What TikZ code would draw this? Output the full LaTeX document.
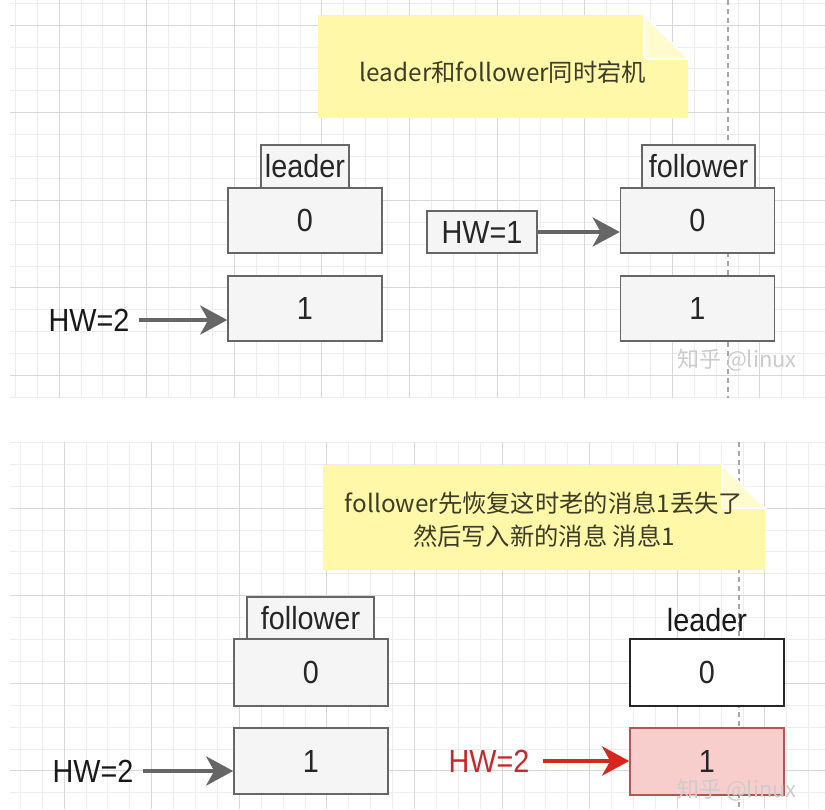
\documentclass[tikz,border=0pt]{standalone}
\usepackage{fontspec}
\setmainfont{Liberation Sans}[FakeStretch=0.9]
\newfontfamily\cjk{Noto Sans CJK SC}
\usetikzlibrary{arrows.meta}
\definecolor{boxfill}{HTML}{F5F5F5}
\definecolor{boxline}{HTML}{666666}
\definecolor{notefill}{HTML}{FFF8A8}
\definecolor{notetxt}{HTML}{3C3C28}
\definecolor{redfill}{HTML}{F8CECC}
\definecolor{redline}{HTML}{B85450}
\definecolor{redarrow}{HTML}{D8261E}
\definecolor{redtext}{HTML}{C8282A}
\definecolor{gridminor}{HTML}{EDEDED}
\definecolor{gridmajor}{HTML}{D8D8D8}
\tikzset{
  cell/.style={draw=boxline, fill=boxfill, line width=1.6pt, minimum width=154pt,
    minimum height=65pt, inner sep=0pt, font=\fontsize{32}{38}\selectfont, text=black!85},
  tagbox/.style={draw=boxline, fill=boxfill, line width=1.6pt, minimum height=43pt,
    inner sep=0pt, font=\fontsize{32}{38}\selectfont, text=black!85},
  hwtext/.style={font=\fontsize{32}{38}\selectfont, inner sep=0pt, text=black!90},
  arr/.style={draw=boxline, line width=4pt, -{Stealth[length=27pt,width=29pt,inset=8pt]}},
  redarr/.style={draw=redarrow, line width=4pt, -{Stealth[length=27pt,width=29pt,inset=8pt]}},
  notetext/.style={font=\cjk\fontsize{24.3}{33}\selectfont, text=notetxt, align=center, inner sep=0pt},
  notebody/.style={fill=notefill},
  notefold/.style={fill=notefill!55!white, draw=white, line width=1.5pt},
  guide/.style={draw=gray!70, line width=1.4pt, dash pattern=on 5pt off 4pt},
  wmark/.style={font=\cjk\fontsize{22}{26}\selectfont, text=gray!40, inner sep=0pt},
  gmin/.style={draw=gridminor, line width=0.8pt},
  gmaj/.style={draw=gridmajor, line width=1pt},
}
\begin{document}
\begin{tikzpicture}[x=1pt,y=-1pt]
\useasboundingbox (0,0) rectangle (825,809);
\fill[white] (0,0) rectangle (825,809);
% ---------- top grid
\begin{scope}
  \clip (10,0) rectangle (825,398);
  \foreach \i in {-3,...,36} \draw[gmin] ({59+21.9*\i},0) -- ({59+21.9*\i},398);
  \foreach \j in {-2,...,18} \draw[gmin] (10,{25+21.9*\j}) -- (825,{25+21.9*\j});
  \foreach \i in {-1,...,9} \draw[gmaj] ({59+87.6*\i},0) -- ({59+87.6*\i},398);
  \foreach \j in {0,...,4} \draw[gmaj] (10,{25+87.6*\j}) -- (825,{25+87.6*\j});
\end{scope}
% ---------- bottom grid
\begin{scope}
  \clip (10,442) rectangle (825,809);
  \foreach \i in {-3,...,36} \draw[gmin] ({64+21.9*\i},442) -- ({64+21.9*\i},809);
  \foreach \j in {-4,...,15} \draw[gmin] (10,{508+21.9*\j}) -- (825,{508+21.9*\j});
  \foreach \i in {-1,...,9} \draw[gmaj] ({64+87.6*\i},442) -- ({64+87.6*\i},809);
  \foreach \j in {0,...,3} \draw[gmaj] (10,{508+87.6*\j}) -- (825,{508+87.6*\j});
\end{scope}
% ---------- guide lines
\draw[guide] (728,0) -- (728,398);
\draw[guide] (739,442) -- (739,809);

% ---------- top note
\fill[notebody] (318,15) -- (644,15) -- (688,59) -- (688,118) -- (318,118) -- cycle;
\filldraw[notefold] (644,15) -- (644,59) -- (688,59) -- cycle;
\node[notetext] (note1) at (503,72) {leader和follower同时宕机};

% ---------- top left (leader)
\node[tagbox, minimum width=88pt] (ltag) at (305,166.5) {leader};
\node[cell] (L0) at (305,220.5) {0};
\node[cell] (L1) at (305,308.5) {1};
\node[hwtext] (hwA) at (89,320) {HW=2};
\draw[arr] ([xshift=9pt]hwA.east) -- (hwA.east -| L1.west);

% ---------- top right (follower)
\node[tagbox, minimum width=113pt] (ftag) at (698.5,166.5) {follower};
\node[cell] (F0) at (697.5,220.5) {0};
\node[cell] (F1) at (697.5,308.5) {1};
\node[tagbox, minimum width=110pt, minimum height=42pt] (hwB) at (482,232) {HW=1};
\draw[arr] (hwB.east) -- (hwB.east -| F0.west);
\node[wmark] (wm1) at (737,360) {知乎 @linux};

% ---------- bottom note
\fill[notebody] (323,465) -- (722,465) -- (765,508) -- (765,570) -- (323,570) -- cycle;
\filldraw[notefold] (722,465) -- (722,508) -- (765,508) -- cycle;
\node[notetext] (note2) at (544,519.5) {follower先恢复这时老的消息1丢失了\\然后写入新的消息 消息1};

% ---------- bottom left (follower)
\node[tagbox, minimum width=127pt, minimum height=42pt] (btag) at (310.5,618) {follower};
\node[cell, minimum height=67pt] (B0) at (311,672.5) {0};
\node[cell, minimum height=66pt] (B1) at (311,761) {1};
\node[hwtext] (hwC) at (93,771) {HW=2};
\draw[arr] ([xshift=9pt]hwC.east) -- (hwC.east -| B1.west);

% ---------- bottom right (leader)
\node[hwtext] (rtag) at (707,620) {leader};
\node[cell, fill=white, draw=black!85, line width=2.2pt, minimum height=67pt] (R0) at (707,672.5) {0};
\node[cell, fill=redfill, draw=redline, minimum height=67pt] (R1) at (707,761.5) {1};
\node[hwtext, text=redtext] (hwD) at (489,761) {HW=2};
\draw[redarr] ([xshift=13pt]hwD.east) -- (hwD.east -| R1.west);
\node[wmark] (wm2) at (737,790) {知乎 @linux};
\end{tikzpicture}
\end{document}
